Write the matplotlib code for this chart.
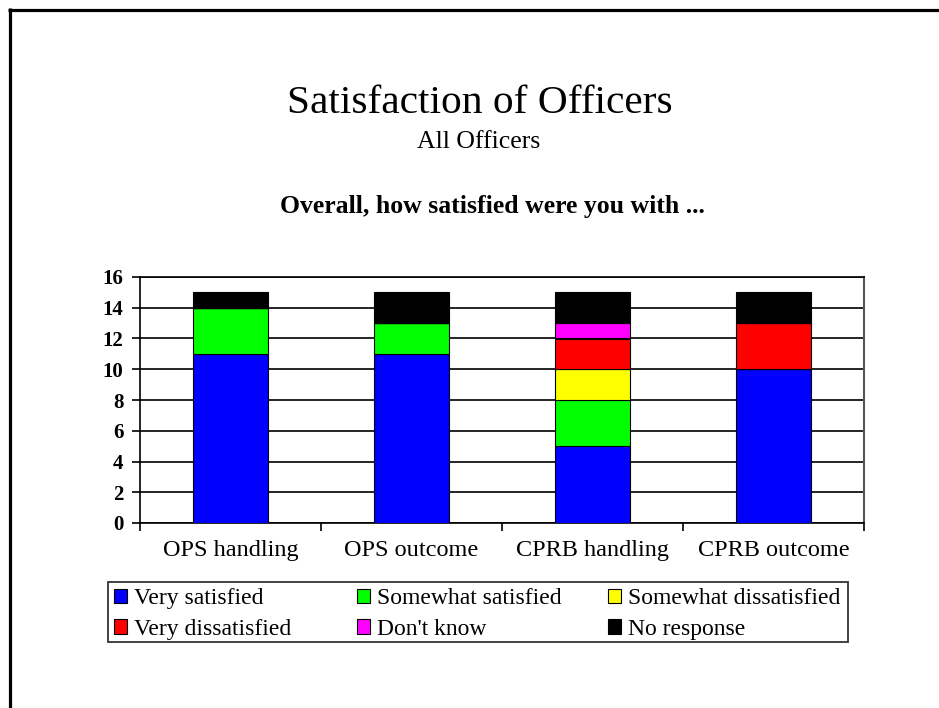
import numpy as np
import matplotlib
matplotlib.use("Agg")
import matplotlib.pyplot as plt
from matplotlib.lines import Line2D
from matplotlib.patches import Rectangle

plt.rcParams['font.family'] = ['Liberation Serif', 'DejaVu Serif']

# respostas por categoria (numero de oficiais)
categorias = ["OPS handling", "OPS outcome", "CPRB handling", "CPRB outcome"]
very_satisfied = [11, 11, 5, 10]
somewhat_satisfied = [3, 2, 3, 0]
somewhat_dissatisfied = [0, 0, 2, 0]
very_dissatisfied = [0, 0, 2, 3]
dont_know = [0, 0, 1, 0]
no_response = [1, 2, 2, 2]

rotulos = ["Very satisfied", "Somewhat satisfied", "Somewhat dissatisfied",
           "Very dissatisfied", "Don't know", "No response"]
cores = ["#0000FF", "#00FF00", "#FFFF00", "#FF0000", "#FF00FF", "#000000"]
yticks = [0, 2, 4, 6, 8, 10, 12, 14, 16]

series = [very_satisfied, somewhat_satisfied, somewhat_dissatisfied,
          very_dissatisfied, dont_know, no_response]

W, H = 939, 708
fig = plt.figure(figsize=(W / 100, H / 100), dpi=100)

# moldura preta (topo e esquerda)
fig.add_artist(Line2D([8 / W, 1.0], [1 - 9.5 / H, 1 - 9.5 / H], color="black", lw=2.3,
                      solid_capstyle="butt"))
fig.add_artist(Line2D([9.5 / W, 9.5 / W], [0.0, 1 - 8 / H], color="black", lw=2.3,
                      solid_capstyle="butt"))

# titulos
fig.text(480 / W, 1 - 113 / H, "Satisfaction of Officers", ha="center", va="baseline",
         fontsize=29.8)
fig.text(479 / W, 1 - 148 / H, "All Officers", ha="center", va="baseline", fontsize=18.5)
fig.text(492 / W, 1 - 213 / H, "Overall, how satisfied were you with ...", ha="center",
         va="baseline", fontsize=18.5, fontweight="bold")

ax = fig.add_axes([140 / W, 1 - 523 / H, 724 / W, 246 / H])

x = np.arange(len(categorias))
base = np.zeros(len(categorias))
barras = []
for valores, rotulo, cor in zip(series, rotulos, cores):
    b = ax.bar(x, valores, width=0.41, bottom=base, color=cor, edgecolor="black",
               linewidth=0.8, label=rotulo, zorder=3)
    barras.append(b)
    base = base + np.array(valores)

ax.set_xlim(-0.5, len(categorias) - 0.5)
ax.set_ylim(0, 16)
ax.set_yticks(yticks)
ax.set_yticklabels([str(v) for v in yticks], fontsize=15, fontweight="bold")
ax.set_xticks(x)
ax.set_xticklabels(categorias, fontsize=17.5)
ax.tick_params(axis="x", which="major", length=0, pad=12)
ax.set_xticks(np.arange(-0.5, len(categorias), 1.0), minor=True)
ax.tick_params(axis="x", which="minor", length=6, width=1.2, direction="out")
ax.tick_params(axis="y", length=6, width=1.2, direction="out", pad=6)

ax.set_axisbelow(True)
ax.yaxis.grid(True, color="black", lw=1.2)
for lado in ["left", "bottom", "top"]:
    ax.spines[lado].set_color("black")
    ax.spines[lado].set_linewidth(1.2)
ax.spines["right"].set_color("#555555")
ax.spines["right"].set_linewidth(1.5)

# legenda em tres colunas dentro de uma caixa
fig.add_artist(Rectangle((108 / W, 1 - 642 / H), 740 / W, 60 / H, transform=fig.transFigure,
                         fill=False, edgecolor="#333333", lw=1.3))
colunas = [(0, 3), (1, 4), (2, 5)]
xs = [114, 357, 608]
for (i, j), xc in zip(colunas, xs):
    fig.legend(handles=[barras[i], barras[j]], loc="center left",
               bbox_to_anchor=(xc / W, 1 - 614 / H), frameon=False, fontsize=17,
               borderpad=0, borderaxespad=0, handlelength=0.55, handleheight=0.55,
               handletextpad=0.3, labelspacing=0.42)

fig.savefig("out.png", dpi=100, facecolor="white")
